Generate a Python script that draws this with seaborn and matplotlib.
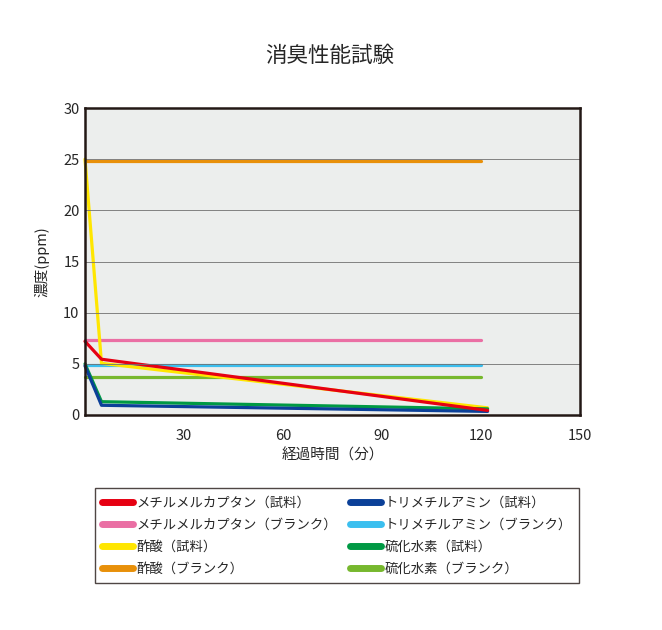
"""
消臭性能試験 — deodorization test chart (seaborn line plot)
"""

import matplotlib
matplotlib.use("Agg")
import matplotlib.pyplot as plt
from matplotlib.lines import Line2D
import seaborn as sns
import pandas as pd

# ─── Data ─────────────────────────────────────────────────────────────────────
series_names = [
    "メチルメルカプタン（試料）",
    "メチルメルカプタン（ブランク）",
    "酢酸（試料）",
    "酢酸（ブランク）",
    "トリメチルアミン（試料）",
    "トリメチルアミン（ブランク）",
    "硫化水素（試料）",
    "硫化水素（ブランク）",
]
sample_times = [0, 5, 122]
blank_times = [0, 120]

methyl_sample = [7.2, 5.45, 0.45]
methyl_blank = [7.35, 7.35]
acetic_sample = [25.0, 5.05, 0.7]
acetic_blank = [24.8, 24.8]
tma_sample = [4.8, 0.95, 0.35]
tma_blank = [4.9, 4.9]
h2s_sample = [5.0, 1.3, 0.6]
h2s_blank = [3.75, 3.75]

x_ticks = [30, 60, 90, 120, 150]
y_ticks = [0, 5, 10, 15, 20, 25, 30]

# ─── Colour palette ───────────────────────────────────────────────────────────
COLORS = {
    series_names[0]: "#E60012",
    series_names[1]: "#EA6FA4",
    series_names[2]: "#FFE600",
    series_names[3]: "#E8900A",
    series_names[4]: "#0B4098",
    series_names[5]: "#3BBFEF",
    series_names[6]: "#009944",
    series_names[7]: "#77B82E",
}

values = [methyl_sample, methyl_blank, acetic_sample, acetic_blank,
          tma_sample, tma_blank, h2s_sample, h2s_blank]
rows = []
for name, vals in zip(series_names, values):
    times = sample_times if len(vals) == 3 else blank_times
    for t, v in zip(times, vals):
        rows.append({"time": t, "ppm": v, "series": name})
df = pd.DataFrame(rows)

sns.set_style("white")
plt.rcParams["font.family"] = ["Noto Sans CJK JP", "DejaVu Sans"]

fig = plt.figure(figsize=(6.62, 6.30), dpi=100)
ax = fig.add_axes([85 / 662, 1 - 415 / 630, 495 / 662, 307 / 630])
ax.set_facecolor("#ECEEED")

# blanks first, samples on top
draw_order = [series_names[i] for i in (3, 1, 5, 7, 2, 6, 4, 0)]
sns.lineplot(data=df, x="time", y="ppm", hue="series", hue_order=draw_order,
             palette=COLORS, sort=False, estimator=None, linewidth=2.3,
             legend=False, ax=ax, clip_on=False)

ax.set_xlim(0, 150)
ax.set_ylim(0, 30)
ax.set_xticks(x_ticks)
ax.set_yticks(y_ticks)
ax.tick_params(axis="x", direction="in", length=5, width=0.8, color="#777777",
               labelsize=10.5, pad=10)
ax.tick_params(axis="y", length=0, labelsize=10.5, pad=4)

ax.set_axisbelow(False)
ax.yaxis.grid(True, color="#707070", linewidth=0.6)
ax.xaxis.grid(False)
for sp in ax.spines.values():
    sp.set_visible(True)
    sp.set_color("#231815")
    sp.set_linewidth(1.8)
    sp.set_zorder(5)

ax.set_xlabel("経過時間（分）", fontsize=10.5, labelpad=4)
ax.set_ylabel("濃度(ppm)", fontsize=10.5, labelpad=10)
fig.text(0.498, 1 - 56 / 630, "消臭性能試験", ha="center", va="center", fontsize=15.5)

handles = [Line2D([0], [0], color=COLORS[n], lw=5, solid_capstyle="round")
           for n in series_names]
leg = fig.legend(handles, series_names, loc="upper left",
                 bbox_to_anchor=(95 / 662, 1 - 488 / 630),
                 ncol=2, fontsize=9.6, frameon=True,
                 fancybox=False, edgecolor="#231815", handlelength=2.3,
                 handletextpad=0.25, labelspacing=0.62, borderpad=0.55,
                 borderaxespad=0, columnspacing=1.0)
leg.get_frame().set_linewidth(1.0)

fig.savefig("out.png", dpi=100)
